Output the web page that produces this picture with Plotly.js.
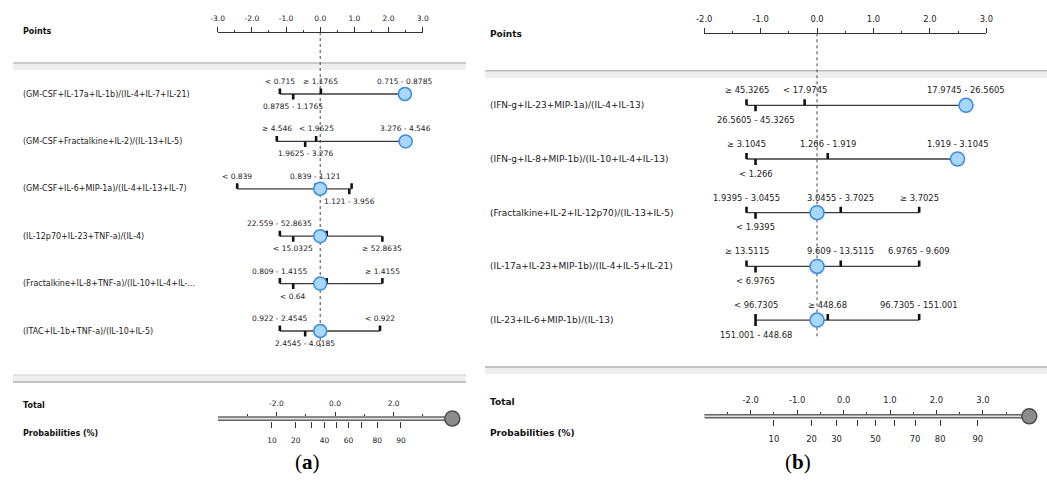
<!DOCTYPE html>
<html><head><meta charset="utf-8">
<script src="https://cdn.plot.ly/plotly-3.0.1.min.js"></script>
<style>html,body{margin:0;padding:0;background:#fff}#chart{width:1047px;height:481px}</style>
</head><body><div id="chart"></div>
<script>
// ================= DATA : panel (a) =================
const varsA = [
  "(GM-CSF+IL-17a+IL-1b)/(IL-4+IL-7+IL-21)",
  "(GM-CSF+Fractalkine+IL-2)/(IL-13+IL-5)",
  "(GM-CSF+IL-6+MIP-1a)/(IL-4+IL-13+IL-7)",
  "(IL-12p70+IL-23+TNF-a)/(IL-4)",
  "(Fractalkine+IL-8+TNF-a)/(IL-10+IL-4+IL-...",
  "(ITAC+IL-1b+TNF-a)/(IL-10+IL-5)"
];
const catPtsA = [
  [-1.18, -0.79, 0.02, 2.48],
  [-1.27, -0.44, -0.12, 2.50],
  [-2.43, -0.13, 0.85, 0.92],
  [-1.18, -0.79, 0.19, 1.82],
  [-1.18, -0.79, 0.19, 1.82],
  [-1.18, -0.44, 1.75]
];
const catLblA = [
  ["< 0.715", "0.8785 - 1.1765", "\u2265 1.1765", "0.715 - 0.8785"],
  ["\u2265 4.546", "1.9625 - 3.276", "< 1.9625", "3.276 - 4.546"],
  ["< 0.839", "0.839 - 1.121", "1.121 - 3.956", ""],
  ["22.559 - 52.8635", "< 15.0325", "", "\u2265 52.8635"],
  ["0.809 - 1.4155", "< 0.64", "", "\u2265 1.4155"],
  ["0.922 - 2.4545", "2.4545 - 4.0185", "< 0.922"]
];
const catSideA = [
  ["u","d","u","u"], ["u","d","u","u"], ["u","u","d","u"],
  ["u","d","u","d"], ["u","d","u","u"], ["u","d","u"]
];
const circleA = [2.48, 2.50, 0, 0, 0, 0];
const ptsTicksA = [-3, -2, -1, 0, 1, 2, 3];
const ptsTickTextA = ["-3.0","-2.0","-1.0","0.0","1.0","2.0","3.0"];
const ptsMinorA = [-2.5, -1.5, -0.5, 0.5, 1.5, 2.5];
const totalRangeA = [-4, 4];
const totalTicksA = [-2, 0, 2];
const totalTickTextA = ["-2.0","0.0","2.0"];
const totalMinorA = [-3, -1, 1, 3];
const probTotalA = [-2.15, -1.34, -0.80, -0.36, 0.05, 0.46, 0.90, 1.44, 2.25];
const probTextA = ["10","20","","40","","60","","80","90"];
const totalMarkerA = 4;

// ================= DATA : panel (b) =================
const varsB = [
  "(IFN-g+IL-23+MIP-1a)/(IL-4+IL-13)",
  "(IFN-g+IL-8+MIP-1b)/(IL-10+IL-4+IL-13)",
  "(Fractalkine+IL-2+IL-12p70)/(IL-13+IL-5)",
  "(IL-17a+IL-23+MIP-1b)/(IL-4+IL-5+IL-21)",
  "(IL-23+IL-6+MIP-1b)/(IL-13)"
];
const catPtsB = [
  [-1.25, -1.09, -0.22, 2.64],
  [-1.25, -1.09, 0.19, 2.49],
  [-1.25, -1.09, 0.42, 1.81],
  [-1.25, -1.09, 0.42, 1.81],
  [-1.09, -1.09, 0.19, 1.81]
];
const catLblB = [
  ["\u2265 45.3265", "26.5605 - 45.3265", "< 17.9745", "17.9745 - 26.5605"],
  ["\u2265 3.1045", "< 1.266", "1.266 - 1.919", "1.919 - 3.1045"],
  ["1.9395 - 3.0455", "< 1.9395", "3.0455 - 3.7025", "\u2265 3.7025"],
  ["\u2265 13.5115", "< 6.9765", "9.609 - 13.5115", "6.9765 - 9.609"],
  ["< 96.7305", "151.001 - 448.68", "\u2265 448.68", "96.7305 - 151.001"]
];
const catSideB = [
  ["u","d","u","u"], ["u","d","u","u"], ["u","d","u","u"],
  ["u","d","u","u"], ["u","d","u","u"]
];
const circleB = [2.64, 2.49, 0, 0, 0];
const ptsTicksB = [-2, -1, 0, 1, 2, 3];
const ptsTickTextB = ["-2.0","-1.0","0.0","1.0","2.0","3.0"];
const ptsMinorB = [-1.5, -0.5, 0.5, 1.5, 2.5];
const totalRangeB = [-3, 4];
const totalTicksB = [-2, -1, 0, 1, 2, 3];
const totalTickTextB = ["-2.0","-1.0","0.0","1.0","2.0","3.0"];
const totalMinorB = [-2.5, -1.5, -0.5, 0.5, 1.5, 2.5, 3.5];
const probTotalB = [-1.50, -0.69, -0.15, 0.29, 0.69, 1.10, 1.54, 2.08, 2.89];
const probTextB = ["10","20","30","","50","","70","80","90"];
const totalMarkerB = 4;

// ================= LAYOUT GEOMETRY (pixels) =================
const W = 1047, H = 481;
const PX = p => p / W, PY = p => 1 - p / H;
const FONT = "DejaVu Sans";
const TXT = "#222";

const geoA = {ptsL:217.7, ptsR:422.7, axisY:32, rowTop:94, rowStep:47.4, nameX:20.5,
  totL:217.7, totR:452.3, totY:418.6, fName:8, fTick:7.5, fAxis:7.5, tickLen:5.5, offUp:12.5, offDown:12.5,
  circ:13, panL:13, panR:466, dotBot:348, ptsLblY:31.5, totLblY:405, probLblY:433.3,
  capX:307, capY:462, cap:"(<b>a</b>)"};
const geoB = {ptsL:704.2, ptsR:986.3, axisY:33.3, rowTop:105.3, rowStep:53.7, nameX:488,
  totL:704.3, totR:1029.3, totY:416.3, fName:9, fTick:8.4, fAxis:8.4, tickLen:6, offUp:15, offDown:14.5,
  circ:14, panL:485, panR:1047, dotBot:338, ptsLblY:34.3, totLblY:401.7, probLblY:433.3,
  capX:798, capY:462, cap:"(<b>b</b>)"};

const traces = [], annotations = [], shapes = [];
const layout = {
  width: W, height: H, margin: {l:0, r:0, t:0, b:0},
  paper_bgcolor: "#ffffff", plot_bgcolor: "rgba(0,0,0,0)",
  showlegend: false, font: {family: FONT, color: TXT},
  annotations, shapes
};

// separators (decoration)
function hline(x0, x1, y, color, w) {
  shapes.push({type:"line", xref:"paper", yref:"paper", x0:PX(x0), x1:PX(x1), y0:PY(y), y1:PY(y),
    line:{color:color, width:w}, layer:"below"});
}
function band(x0, x1, y0, y1, color) {
  shapes.push({type:"rect", xref:"paper", yref:"paper", x0:PX(x0), x1:PX(x1), y0:PY(y0), y1:PY(y1),
    fillcolor:color, line:{width:0}, layer:"below"});
}
// panel a
band(13, 466, 63, 70, "#efefef"); hline(13, 466, 63, "#bdbdbd", 1.5);
band(13, 466, 375, 382, "#efefef"); hline(13, 466, 375, "#d0d0d0", 1); hline(13, 466, 382, "#b0b0b0", 1.5);
// panel b
band(485, 1047, 70.7, 78, "#efefef"); hline(485, 1047, 70.7, "#bdbdbd", 1.5);
band(485, 1047, 367, 374, "#efefef"); hline(485, 1047, 367, "#b0b0b0", 1.5);

function buildPanel(k, D, g) {
  const xa = k === 0 ? "x" : "x2", ya = k === 0 ? "y" : "y2";
  const xt = k === 0 ? "x3" : "x4", yt = k === 0 ? "y3" : "y4";
  const xp = k === 0 ? "x5" : "x6";
  const ax = s => s[0] + "axis" + s.slice(1);

  // points axis
  layout[ax(xa)] = {
    domain:[PX(g.ptsL), PX(g.ptsR)], range:[D.ptsTicks[0], D.ptsTicks[D.ptsTicks.length-1]],
    anchor:"free", position:PY(g.axisY), side:"top",
    showline:true, linecolor:"#333", linewidth:1,
    ticks:"outside", ticklen:5, tickwidth:1, tickcolor:"#333",
    tickmode:"array", tickvals:D.ptsTicks, ticktext:D.ptsTickText,
    tickfont:{family:FONT, size:g.fAxis, color:TXT}, ticklabelstandoff:3,
    minor:{tickmode:"array", tickvals:D.ptsMinor, ticks:"outside", ticklen:2.5, tickwidth:1, tickcolor:"#333", showgrid:false},
    showgrid:false, zeroline:false, fixedrange:true
  };
  const n = D.vars.length;
  layout[ax(ya)] = {
    domain:[0,1], range:[(H - g.rowTop) / g.rowStep, -g.rowTop / g.rowStep],
    visible:false, fixedrange:true
  };
  // total axis
  layout[ax(xt)] = {
    domain:[PX(g.totL), PX(g.totR)], range:D.totalRange,
    anchor:"free", position:PY(g.totY - 2.3), side:"top", showline:false,
    ticks:"outside", ticklen:4.5, tickwidth:1, tickcolor:"#333",
    tickmode:"array", tickvals:D.totalTicks, ticktext:D.totalTickText,
    tickfont:{family:FONT, size:g.fAxis, color:TXT}, ticklabelstandoff:3,
    minor:{tickmode:"array", tickvals:D.totalMinor, ticks:"outside", ticklen:2.5, tickwidth:1, tickcolor:"#333", showgrid:false},
    showgrid:false, zeroline:false, fixedrange:true
  };
  layout[ax(xp)] = {
    domain:[PX(g.totL), PX(g.totR)], range:D.totalRange,
    anchor:"free", position:PY(g.totY + 2.3), side:"bottom", showline:false,
    ticks:"outside", ticklen:6, tickwidth:1, tickcolor:"#333",
    tickmode:"array", tickvals:D.probTotal, ticktext:D.probText,
    tickfont:{family:FONT, size:g.fAxis, color:TXT}, ticklabelstandoff:6,
    showgrid:false, zeroline:false, fixedrange:true
  };
  layout[ax(yt)] = {
    domain:[PY(g.totY + 12), PY(g.totY - 12)], range:[-1, 1], visible:false, fixedrange:true
  };

  // row lines
  const lx = [], ly = [];
  D.cats.forEach((pts, i) => {
    lx.push(Math.min(...pts), Math.max(...pts), null); ly.push(i, i, null);
  });
  traces.push({type:"scatter", mode:"lines", x:lx, y:ly, xaxis:xa, yaxis:ya,
    line:{color:"#3c3c3c", width:1.3}, hoverinfo:"skip"});
  // category ticks
  const tx = [], ty = [];
  D.cats.forEach((pts, i) => pts.forEach((p, j) => {
    const dir = D.side[i][j] === "u" ? -1 : 1;
    tx.push(p, p, null); ty.push(i, i + dir * g.tickLen / g.rowStep, null);
  }));
  traces.push({type:"scatter", mode:"lines", x:tx, y:ty, xaxis:xa, yaxis:ya,
    line:{color:"#111", width:2.6}, hoverinfo:"skip"});
  // circles
  traces.push({type:"scatter", mode:"markers", x:D.circle, y:D.circle.map((_, i) => i), xaxis:xa, yaxis:ya,
    marker:{size:g.circ, color:"#a9d6fb", line:{color:"#3a8be0", width:1.5}}, cliponaxis:false, hoverinfo:"skip"});
  // total rail
  traces.push({type:"scatter", mode:"lines", x:D.totalRange, y:[0,0], xaxis:xt, yaxis:yt,
    line:{color:"#666", width:4.6}, hoverinfo:"skip"});
  traces.push({type:"scatter", mode:"lines", x:D.totalRange, y:[0,0], xaxis:xt, yaxis:yt,
    line:{color:"#e4e4e4", width:1.6}, hoverinfo:"skip"});
  traces.push({type:"scatter", mode:"markers", x:[D.totalMarker], y:[0], xaxis:xt, yaxis:yt,
    marker:{size:15, color:"#8c8c8c", line:{color:"#4d4d4d", width:1.5}}, cliponaxis:false, hoverinfo:"skip"});
  traces.push({type:"scatter", mode:"markers", x:[D.totalMarker], y:[0], xaxis:xp, yaxis:yt,
    marker:{size:1, opacity:0}, hoverinfo:"skip"});

  // dotted zero line
  shapes.push({type:"line", xref:xa, yref:"paper", x0:0, x1:0, y0:PY(g.axisY), y1:PY(g.dotBot),
    line:{color:"#444", width:1, dash:"dot"}, layer:"below"});

  // row names
  D.vars.forEach((v, i) => annotations.push({xref:"paper", yref:ya, x:PX(g.nameX), y:i, text:v,
    xanchor:"left", yanchor:"middle", showarrow:false, font:{family:FONT, size:g.fName, color:TXT}}));
  // category labels
  D.cats.forEach((pts, i) => pts.forEach((p, j) => {
    const t = D.lbl[i][j]; if (!t) return;
    annotations.push({xref:xa, yref:ya, x:p, y:i, text:t, xanchor:"center", yanchor:"middle",
      yshift: D.side[i][j] === "u" ? g.offUp : -g.offDown, showarrow:false,
      font:{family:FONT, size:g.fTick, color:TXT}});
  }));
  // bold side labels
  [["Points", g.ptsLblY], ["Total", g.totLblY], ["Probabilities (%)", g.probLblY]].forEach(([t, y]) =>
    annotations.push({xref:"paper", yref:"paper", x:PX(g.nameX), y:PY(y), text:"<b>" + t + "</b>",
      xanchor:"left", yanchor:"middle", showarrow:false, font:{family:FONT, size:g.fName, color:"#111"}}));
  // caption
  annotations.push({xref:"paper", yref:"paper", x:PX(g.capX), y:PY(g.capY), text:g.cap,
    xanchor:"center", yanchor:"middle", showarrow:false, font:{family:"Liberation Serif", size:21, color:"#000"}});
}

buildPanel(0, {vars:varsA, cats:catPtsA, lbl:catLblA, side:catSideA, circle:circleA,
  ptsTicks:ptsTicksA, ptsTickText:ptsTickTextA, ptsMinor:ptsMinorA,
  totalRange:totalRangeA, totalTicks:totalTicksA, totalTickText:totalTickTextA, totalMinor:totalMinorA,
  probTotal:probTotalA, probText:probTextA, totalMarker:totalMarkerA}, geoA);
buildPanel(1, {vars:varsB, cats:catPtsB, lbl:catLblB, side:catSideB, circle:circleB,
  ptsTicks:ptsTicksB, ptsTickText:ptsTickTextB, ptsMinor:ptsMinorB,
  totalRange:totalRangeB, totalTicks:totalTicksB, totalTickText:totalTickTextB, totalMinor:totalMinorB,
  probTotal:probTotalB, probText:probTextB, totalMarker:totalMarkerB}, geoB);

Plotly.newPlot("chart", traces, layout, {displayModeBar:false, staticPlot:true});
</script></body></html>
